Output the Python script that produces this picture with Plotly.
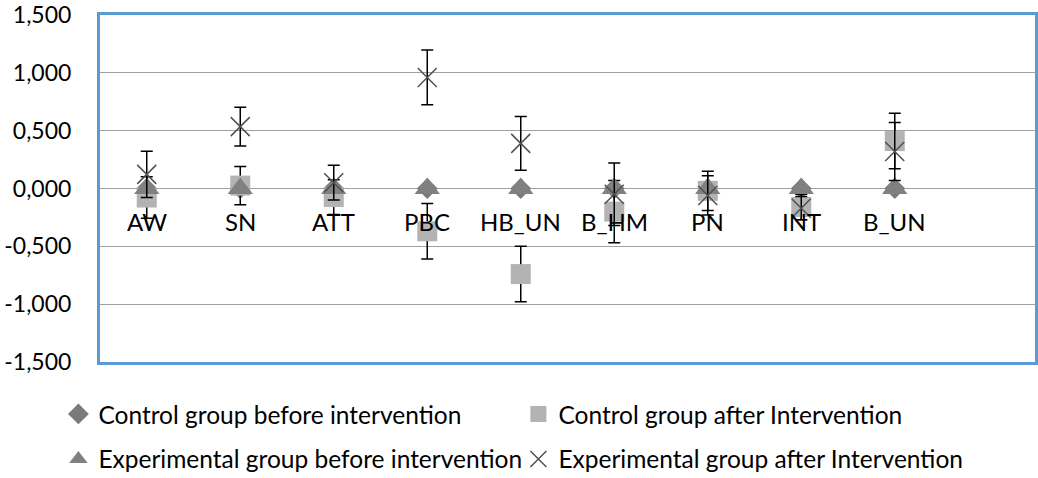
import plotly.graph_objects as go

categories = ["AW", "SN", "ATT", "PBC", "HB_UN", "B_HM", "PN", "INT", "B_UN"]

control_before = [0, 0, 0, 0, 0, 0, 0, 0, 0]
control_after = [-0.078, 0.025, -0.074, -0.37, -0.74, -0.20, -0.02, -0.16, 0.41]
control_after_err = [0.18, 0.165, 0.15, 0.24, 0.24, 0.27, 0.17, 0.11, 0.24]
exp_before = [0, 0, 0, 0, 0, 0, 0, 0, 0]
exp_after = [0.122, 0.535, 0.05, 0.96, 0.39, -0.05, -0.06, -0.17, 0.32]
exp_after_err = [0.2, 0.168, 0.15, 0.237, 0.232, 0.27, 0.17, 0.10, 0.25]

y_tickvals = [-1.5, -1.0, -0.5, 0.0, 0.5, 1.0, 1.5]
y_ticktext = ["-1,500", "-1,000", "-0,500", "0,000", "0,500", "1,000", "1,500"]

FONT = "Lato, Carlito, sans-serif"

fig = go.Figure()

fig.add_trace(go.Scatter(
    x=categories, y=control_before, mode="markers",
    name="Control group before intervention",
    marker=dict(symbol="diamond", size=16, color="#7a7a7a"),
    legend="legend",
))
fig.add_trace(go.Scatter(
    x=categories, y=control_after, mode="markers",
    name="Control group after Intervention",
    marker=dict(symbol="square", size=20, color="#b3b3b3"),
    error_y=dict(type="data", array=control_after_err, color="black", thickness=1.5, width=6),
    legend="legend",
))
fig.add_trace(go.Scatter(
    x=categories, y=exp_before, mode="markers",
    name="Experimental group before intervention",
    marker=dict(symbol="triangle-up", size=22, color="#808080"),
    legend="legend2",
))
fig.add_trace(go.Scatter(
    x=categories, y=exp_after, mode="markers",
    name="Experimental group after Intervention",
    marker=dict(symbol="x-thin", size=19, color="#505050",
                line=dict(color="#505050", width=1.5)),
    error_y=dict(type="data", array=exp_after_err, color="black", thickness=1.5, width=6),
    legend="legend2",
))

for c in categories:
    fig.add_annotation(x=c, y=0, xref="x", yref="y", text=c, showarrow=False,
                       yshift=-33, font=dict(size=24, color="black", family=FONT))

fig.update_layout(
    width=1038, height=478,
    margin=dict(l=100, r=3, t=15, b=116, autoexpand=False),
    paper_bgcolor="white", plot_bgcolor="white",
    font=dict(family=FONT, color="black"),
    xaxis=dict(categoryorder="array", categoryarray=categories,
               range=[-0.5, 9.5], showticklabels=False, showgrid=False,
               zeroline=False, showline=True, mirror=True,
               linecolor="#5b9bd5", linewidth=3, ticks=""),
    yaxis=dict(range=[-1.5, 1.5], tickvals=y_tickvals, ticktext=y_ticktext,
               showgrid=True, gridcolor="#a0a0a0", gridwidth=1,
               zeroline=False, showline=True, mirror=True,
               linecolor="#5b9bd5", linewidth=3, ticks="",
               ticklabelstandoff=21,
               tickfont=dict(size=23, family=FONT, color="black")),
    showlegend=True,
    legend=dict(orientation="h", x=-0.0445, xanchor="left", y=-0.150, yanchor="middle",
                entrywidth=415, entrywidthmode="pixels",
                font=dict(size=24.5, family=FONT, color="black"),
                bgcolor="rgba(0,0,0,0)", traceorder="normal"),
    legend2=dict(orientation="h", x=-0.0445, xanchor="left", y=-0.2795, yanchor="middle",
                 entrywidth=415, entrywidthmode="pixels",
                 font=dict(size=24.5, family=FONT, color="black"),
                 bgcolor="rgba(0,0,0,0)", traceorder="normal"),
)

fig.write_html("out.html", config={"displayModeBar": False},
               post_script="document.body.style.margin='0px';")
